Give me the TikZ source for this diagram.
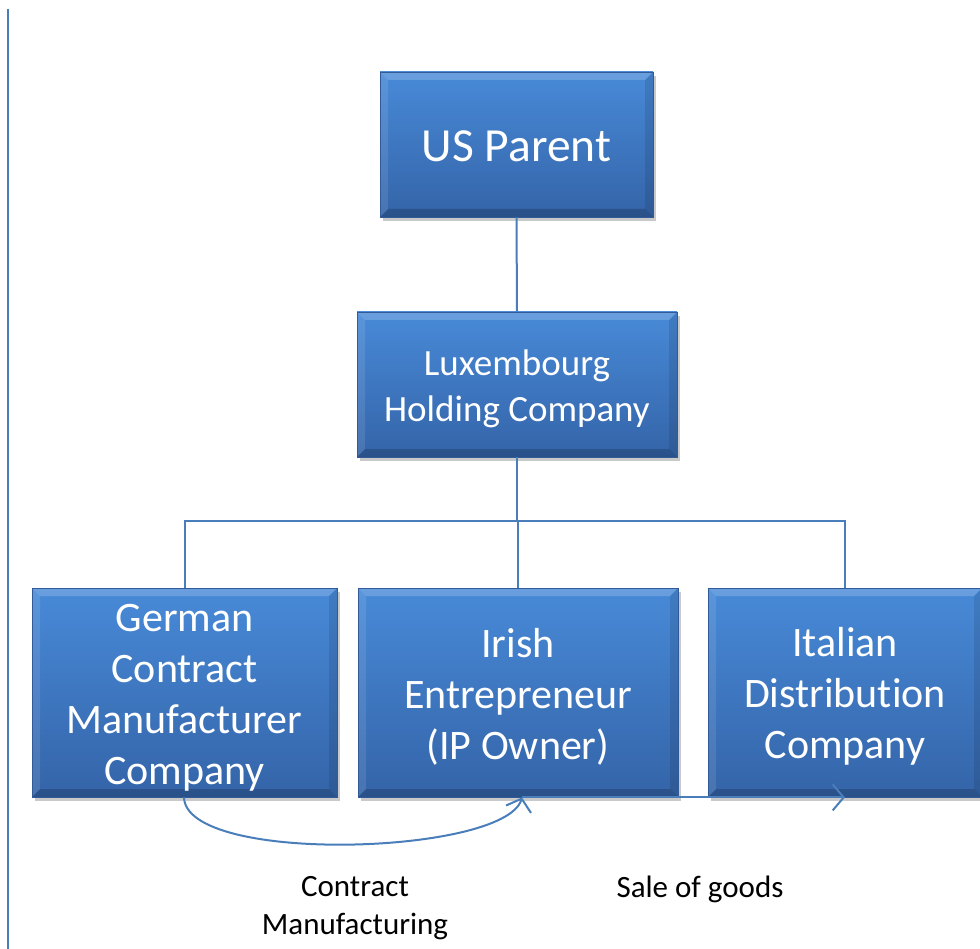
\documentclass[tikz,border=0pt]{standalone}
\usepackage{fontspec}
\setmainfont{Carlito}[RawFeature=-liga]
\usetikzlibrary{shadows,arrows.meta,calc}
\definecolor{lineblue}{RGB}{74,126,187}
\definecolor{boxtop}{RGB}{72,138,216}
\definecolor{boxbot}{RGB}{52,100,168}
\definecolor{boxedge}{RGB}{50,90,150}
\begin{document}
\begin{tikzpicture}[x=1pt,y=-1pt,
  entity/.style={rectangle, draw=boxedge, line width=0.8pt,
    top color=boxtop, bottom color=boxbot, text=white, align=center,
    drop shadow={shadow xshift=3pt, shadow yshift=-4pt, opacity=0.3, fill=black!70},
    inner sep=0pt,
    path picture={
      \fill[white, opacity=0.18] (path picture bounding box.north west) -- (path picture bounding box.north east)
        -- ([xshift=-8pt,yshift=-8pt]path picture bounding box.north east) -- ([xshift=8pt,yshift=-8pt]path picture bounding box.north west) -- cycle;
      \fill[white, opacity=0.10] (path picture bounding box.north west) -- (path picture bounding box.south west)
        -- ([xshift=8pt,yshift=8pt]path picture bounding box.south west) -- ([xshift=8pt,yshift=-8pt]path picture bounding box.north west) -- cycle;
      \fill[black, opacity=0.18] (path picture bounding box.south west) -- (path picture bounding box.south east)
        -- ([xshift=-8pt,yshift=8pt]path picture bounding box.south east) -- ([xshift=8pt,yshift=8pt]path picture bounding box.south west) -- cycle;
      \fill[black, opacity=0.10] (path picture bounding box.north east) -- (path picture bounding box.south east)
        -- ([xshift=-8pt,yshift=8pt]path picture bounding box.south east) -- ([xshift=-8pt,yshift=-8pt]path picture bounding box.north east) -- cycle;
    }},
  btext/.style={text=white, align=center, inner sep=0pt, yshift=-4pt},
  conn/.style={draw=lineblue, line width=2pt},
  barb/.style={-{Straight Barb[length=11pt,width=26pt,line width=2pt]}},
  lbl/.style={text=black, font=\fontsize{31}{38}\selectfont, align=center}]
\useasboundingbox (0,0) rectangle (980,949);
\coordinate (lt) at (8,9);
\coordinate (lb) at (8,949);
\draw[conn] (lt) -- (lb);

\node[entity, minimum width=273pt, minimum height=145pt,
  label={[btext, yshift=2pt, font=\fontsize{47.5}{52}\selectfont]center:US Parent}]
  (us) at (516.5,144.5) {};
\node[entity, minimum width=320pt, minimum height=145pt,
  label={[btext, font=\fontsize{37}{46}\selectfont]center:{Luxembourg\\Holding Company}}]
  (lux) at (517,384.5) {};
\node[entity, minimum width=305pt, minimum height=209pt,
  label={[btext, yshift=-1pt, font=\fontsize{42}{51}\selectfont]center:{German\\Contract\\Manufacturer\\Company}}]
  (ger) at (184.5,692.5) {};
\node[entity, minimum width=320pt, minimum height=209pt,
  label={[btext, font=\fontsize{42}{51}\selectfont]center:{Irish\\Entrepreneur\\(IP Owner)}}]
  (iri) at (518,692.5) {};
\node[entity, minimum width=274pt, minimum height=209pt,
  label={[btext, font=\fontsize{42}{51}\selectfont]center:{Italian\\Distribution\\Company}}]
  (ita) at (845,692.5) {};

\draw[conn] (us.south) -- (lux.north);
\coordinate (j) at (517,521);
\draw[conn] (lux.south) -- (j);
\draw[conn] (j) -| (ger.north);
\draw[conn] (j) -| (ita.north);
\draw[conn] (j) -| (iri.north);

\coordinate (cs) at ($(ger.south)+(-0.5,0)$);
\coordinate (ce) at ($(iri.south)+(4,0)$);
\coordinate (se) at ($(ita.south)+(0,0)$);
\draw[conn, barb] (cs) .. controls (186,865) and (505,855) .. (ce);
\draw[conn, barb] (ce) -- (se);

\node[lbl] (l1) at (355,908) {Contract\\Manufacturing};
\node[lbl] (l2) at (700,889) {Sale of goods};
\end{tikzpicture}
\end{document}
